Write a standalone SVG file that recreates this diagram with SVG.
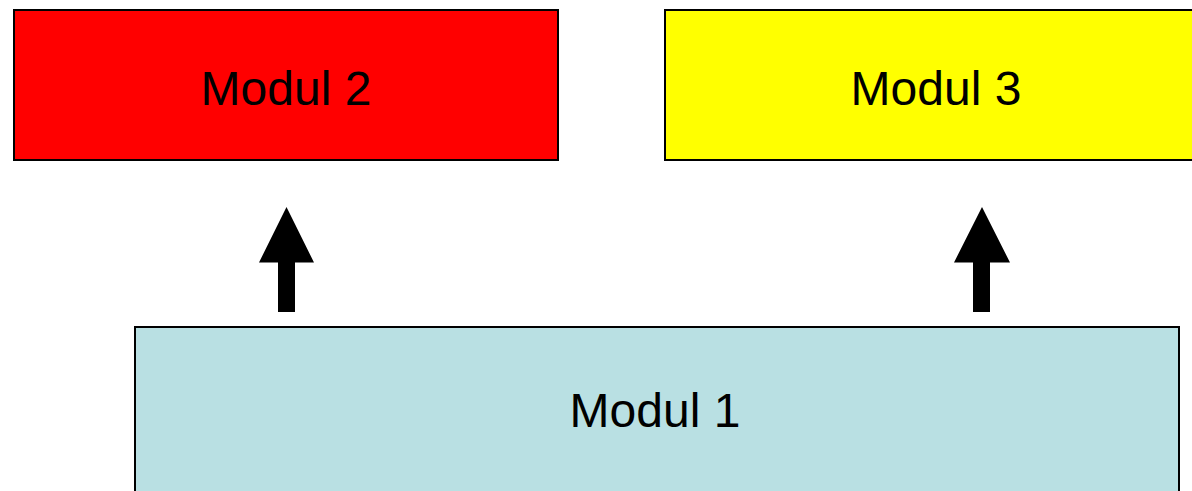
<svg xmlns="http://www.w3.org/2000/svg" width="1192" height="491" viewBox="0 0 1192 491">
<style>
.box{stroke:#000;stroke-width:2}
.lbl{font-family:"Liberation Sans",Arial,sans-serif;font-size:48px;fill:#000;text-anchor:middle}
.arrow{fill:#000}
</style>
<rect width="1192" height="491" fill="#fff"/>
<g id="modul2">
<rect class="box" x="14" y="10" width="544" height="150" fill="#ff0000"/>
<text class="lbl" x="286" y="105">Modul 2</text>
</g>
<g id="modul3">
<rect class="box" x="665" y="10" width="542" height="150" fill="#ffff00"/>
<text class="lbl" x="936" y="105">Modul 3</text>
</g>
<g id="modul1">
<rect class="box" x="135" y="327" width="1044" height="180" fill="#b9e0e3"/>
<text class="lbl" x="655" y="427">Modul 1</text>
</g>
<g id="connectors">
<polygon class="arrow" points="286.5,207 314,262.5 295,262.5 295,312 278,312 278,262.5 259,262.5"/>
<polygon class="arrow" points="982,207 1010,262.5 990,262.5 990,312 973,312 973,262.5 954,262.5"/>
</g>
</svg>
